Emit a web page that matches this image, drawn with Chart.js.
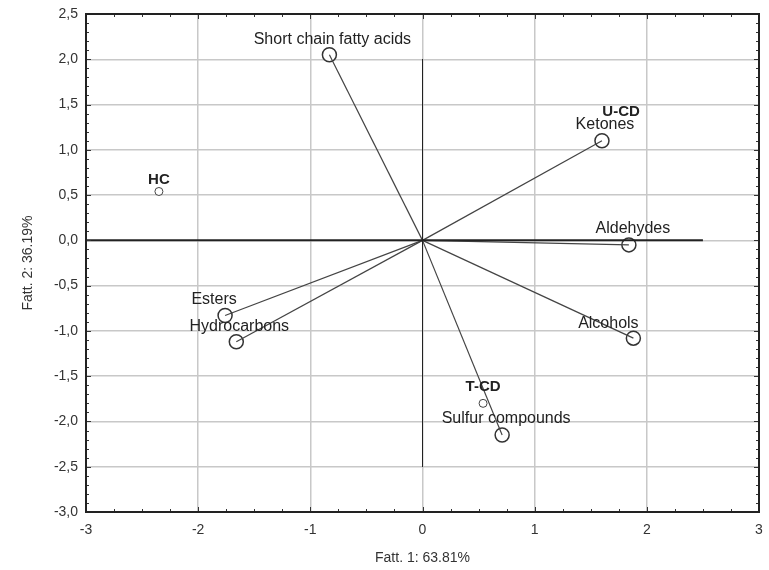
<!DOCTYPE html>
<html>
<head>
<meta charset="utf-8">
<script src="https://cdn.jsdelivr.net/npm/chart.js@4"></script>
<style>
  html, body { margin: 0; padding: 0; background: #fff; }
  #wrap { width: 769px; height: 570px; }
</style>
</head>
<body>
<div id="wrap"><canvas id="chart"></canvas></div>
<script>
// variables (loadings), drawn as vectors from the origin
const varNames = ['Short chain fatty acids', 'Ketones', 'Aldehydes', 'Alcohols', 'Esters', 'Hydrocarbons', 'Sulfur compounds'];
const varX = [-0.83, 1.60, 1.84, 1.88, -1.76, -1.66, 0.71];
const varY = [2.05, 1.10, -0.05, -1.08, -0.83, -1.12, -2.15];

// samples (scores)
const sampleNames = ['HC', 'U-CD', 'T-CD'];
const sampleX = [-2.35, 1.61, 0.54];
const sampleY = [0.54, 1.12, -1.80];

const xTicks = [-3, -2, -1, 0, 1, 2, 3];
const yTicks = [2.5, 2.0, 1.5, 1.0, 0.5, 0.0, -0.5, -1.0, -1.5, -2.0, -2.5, -3.0];

// label offsets in px (text centre relative to point)
const varLabelOffset = [[3, -15], [3, -16], [4, -16], [-25, -15], [-11, -16], [3, -15], [4, -16]];
const sampleLabelOffset = [[0, -12], [18, -27], [0, -16]];

const datasets = [];

// origin cross lines
datasets.push({
    data: [{ x: -3, y: 0 }, { x: 2.5, y: 0 }],
    borderColor: '#222', borderWidth: 2, pointRadius: 0, showLine: true,
});
datasets.push({
    data: [{ x: 0, y: 2.0 }, { x: 0, y: -2.5 }],
    borderColor: '#222', borderWidth: 1, pointRadius: 0, showLine: true,
});

varNames.forEach((name, i) => {
    datasets.push({
        data: [{ x: 0, y: 0 }, { x: varX[i], y: varY[i] }],
        borderColor: '#444', borderWidth: 1.2, pointRadius: 0, showLine: true,
    });
});

datasets.push({
    label: 'vars',
    data: varX.map((x, i) => ({ x, y: varY[i] })),
    pointRadius: 7, pointBorderWidth: 1.5, pointBorderColor: '#333',
    pointBackgroundColor: '#fff', showLine: false, order: 0,
});

datasets.push({
    label: 'samples',
    data: sampleX.map((x, i) => ({ x, y: sampleY[i] })),
    pointRadius: 4, pointBorderWidth: 1, pointBorderColor: '#444',
    pointBackgroundColor: '#fff', showLine: false, order: 1,
});

const labelPlugin = {
    id: 'pointLabels',
    afterDatasetsDraw(chart) {
        const { ctx, scales } = chart;
        ctx.save();
        ctx.textAlign = 'center';
        ctx.textBaseline = 'middle';
        ctx.fillStyle = '#222';
        ctx.font = '16px "Liberation Sans", Arial, sans-serif';
        varNames.forEach((name, i) => {
            const px = scales.x.getPixelForValue(varX[i]) + varLabelOffset[i][0];
            const py = scales.y.getPixelForValue(varY[i]) + varLabelOffset[i][1];
            ctx.fillText(name, px, py);
        });
        ctx.font = 'bold 15px "Liberation Sans", Arial, sans-serif';
        sampleNames.forEach((name, i) => {
            const px = scales.x.getPixelForValue(sampleX[i]) + sampleLabelOffset[i][0];
            const py = scales.y.getPixelForValue(sampleY[i]) + sampleLabelOffset[i][1];
            ctx.fillText(name, px, py);
        });
        ctx.restore();
    },
};

// frame with inward major/minor ticks on all four sides
const framePlugin = {
    id: 'frame',
    afterDraw(chart) {
        const { ctx, chartArea: a, scales } = chart;
        ctx.save();
        ctx.strokeStyle = '#333';
        ctx.lineWidth = 1;
        for (let v = -3; v <= 3.001; v += 0.25) {
            const p = Math.round(scales.x.getPixelForValue(v)) + 0.5;
            const major = Math.abs(v - Math.round(v)) < 1e-6;
            const len = major ? 5 : 3;
            ctx.beginPath();
            ctx.moveTo(p, a.bottom); ctx.lineTo(p, a.bottom - len);
            ctx.moveTo(p, a.top); ctx.lineTo(p, a.top + len);
            ctx.stroke();
        }
        for (let k = -30; k <= 25; k++) {
            const v = k / 10;
            const p = Math.round(scales.y.getPixelForValue(v)) + 0.5;
            const len = k % 5 === 0 ? 5 : 3;
            ctx.beginPath();
            ctx.moveTo(a.left, p); ctx.lineTo(a.left + len, p);
            ctx.moveTo(a.right, p); ctx.lineTo(a.right - len, p);
            ctx.stroke();
        }
        ctx.strokeStyle = '#222';
        ctx.lineWidth = 2;
        ctx.strokeRect(a.left, a.top, a.right - a.left, a.bottom - a.top);
        ctx.restore();
    },
};

new Chart(document.getElementById('chart'), {
    type: 'scatter',
    data: { datasets },
    plugins: [labelPlugin, framePlugin],
    options: {
        responsive: true,
        maintainAspectRatio: false,
        animation: false,
        layout: { padding: { left: 0, top: 14, right: 10, bottom: 0 } },
        plugins: { legend: { display: false }, tooltip: { enabled: false } },
        scales: {
            x: {
                type: 'linear', min: -3, max: 3,
                afterBuildTicks: (s) => { s.ticks = xTicks.map((v) => ({ value: v })); },
                afterFit: (s) => { s.height = 58; s.paddingLeft = 0; s.paddingRight = 0; },
                grid: { color: '#c8c8c8', lineWidth: 1.5, drawTicks: false },
                border: { display: false },
                ticks: {
                    color: '#333', padding: 10,
                    font: { family: '"Liberation Sans", Arial, sans-serif', size: 14 },
                    callback: (v) => String(v),
                },
                title: {
                    display: true, text: 'Fatt. 1: 63.81%', color: '#333',
                    font: { family: '"Liberation Sans", Arial, sans-serif', size: 14 },
                    padding: { top: 0, bottom: 3 },
                },
            },
            y: {
                type: 'linear', min: -3, max: 2.5,
                afterBuildTicks: (s) => { s.ticks = yTicks.map((v) => ({ value: v })); },
                afterFit: (s) => { s.width = 86; s.paddingTop = 2; s.paddingBottom = 0; },
                grid: { color: '#c8c8c8', lineWidth: 1.5, drawTicks: false },
                border: { display: false },
                ticks: {
                    color: '#333', padding: 8,
                    font: { family: '"Liberation Sans", Arial, sans-serif', size: 14 },
                    callback: (v) => v.toFixed(1).replace('.', ','),
                },
                title: {
                    display: true, text: 'Fatt. 2: 36.19%', color: '#333',
                    font: { family: '"Liberation Sans", Arial, sans-serif', size: 14 },
                    padding: { top: 20, bottom: 0 },
                },
            },
        },
    },
});
</script>
</body>
</html>
